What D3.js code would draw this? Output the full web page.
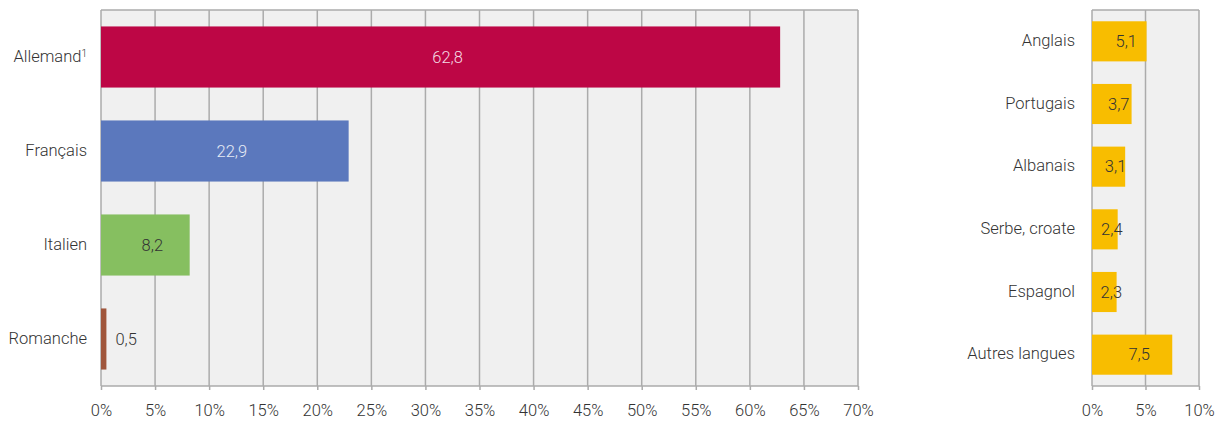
<!DOCTYPE html>
<html><head><meta charset="utf-8">
<script src="https://cdn.jsdelivr.net/npm/d3@7"></script>
<style>
body{margin:0;background:#fff;}
text{font-family:Roboto,"Noto Sans",sans-serif;font-weight:300;fill:#333;}
</style></head><body>
<svg id="c" width="1222" height="423"></svg>
<script>
const natCats = ["Allemand", "Français", "Italien", "Romanche"];
const natVals = [62.8, 22.9, 8.2, 0.5];
const natColors = ["#bd0645", "#5b78bd", "#86bf60", "#a0563c"];
const natTicks = [0,5,10,15,20,25,30,35,40,45,50,55,60,65,70];

const othCats = ["Anglais", "Portugais", "Albanais", "Serbe, croate", "Espagnol", "Autres langues"];
const othVals = [5.1, 3.7, 3.1, 2.4, 2.3, 7.5];
const othColor = "#f8bd00";
const othTicks = [0,5,10];

const svg = d3.select("#c");
const fmt = v => String(v.toFixed(1)).replace(".", ",");

function panel(cfg){
  const {x0,x1,y0,y1,cats,vals,colors,ticks,max,labelColors,labelOutside,pad} = cfg;
  const x = d3.scaleLinear().domain([0,max]).range([x0,x1]);
  const y = d3.scaleBand().domain(cats).range([y0,y1]).paddingInner(pad).paddingOuter(pad/2);
  const g = svg.append("g");
  g.append("rect").attr("x",x0).attr("y",y0).attr("width",x1-x0).attr("height",y1-y0)
    .attr("fill","#f0f0f0");
  g.selectAll("line.grid").data(ticks).join("line").attr("class","grid")
    .attr("x1",d=>x(d)).attr("x2",d=>x(d)).attr("y1",y0).attr("y2",y1)
    .attr("stroke","#ababab").attr("stroke-width",1.5);
  g.append("line").attr("x1",x0).attr("x2",x1).attr("y1",y0).attr("y2",y0)
    .attr("stroke","#ababab").attr("stroke-width",1.5);
  g.selectAll("rect.bar").data(vals).join("rect").attr("class","bar")
    .attr("x",x(0)).attr("y",(d,i)=>y(cats[i])).attr("width",d=>x(d)-x(0))
    .attr("height",y.bandwidth()).attr("fill",(d,i)=>colors[i]);
  g.selectAll("text.val").data(vals).join("text").attr("class","val")
    .attr("x",(d,i)=> labelOutside[i] ? x(d)+9 : (x(0)+x(d))/2+7)
    .attr("y",(d,i)=>y(cats[i])+y.bandwidth()/2)
    .attr("dy","0.35em")
    .attr("text-anchor",(d,i)=>labelOutside[i]?"start":"middle")
    .style("font-size","16.5px")
    .style("fill",(d,i)=>labelColors[i])
    .text(d=>fmt(d));
  const ax = g.append("g").attr("transform",`translate(0,${y1})`)
    .call(d3.axisBottom(x).tickValues(ticks).tickSize(4).tickFormat(d=>d+"%"));
  ax.select(".domain").attr("stroke","#ababab").attr("stroke-width",1.5).attr("d",`M${x0},0H${x1}`);
  ax.selectAll(".tick line").attr("stroke","#ababab").attr("stroke-width",1.5);
  ax.selectAll(".tick text").attr("y",24).attr("dy","0.35em").style("font-size","16.5px")
    .style("font-family","Roboto, sans-serif").style("font-weight",300).style("fill","#333");
  const cl = g.selectAll("text.cat").data(cats).join("text").attr("class","cat")
    .attr("x",x0-cfg.catGap).attr("y",d=>y(d)+y.bandwidth()/2-1).attr("dy","0.35em")
    .attr("text-anchor","end").style("font-size","16.5px");
  cl.each(function(d){
    const t = d3.select(this);
    t.append("tspan").text(d);
    if(d==="Allemand"){
      t.append("tspan").attr("dy","-0.5em").style("font-size","10px").text("1");
    }
  });
}

panel({x0:101,x1:858,y0:10,y1:386,cats:natCats,vals:natVals,colors:natColors,
  ticks:natTicks,max:70,pad:0.35,catGap:14,
  labelColors:["#f4dbe3","#e6ebf5","#333","#333"],labelOutside:[false,false,false,true]});
panel({x0:1092,x1:1199,y0:10,y1:386,cats:othCats,vals:othVals,colors:othCats.map(()=>othColor),
  ticks:othTicks,max:10,pad:0.36,catGap:17,
  labelColors:othCats.map(()=>"#333"),labelOutside:othCats.map(()=>false)});
</script>
</body></html>
